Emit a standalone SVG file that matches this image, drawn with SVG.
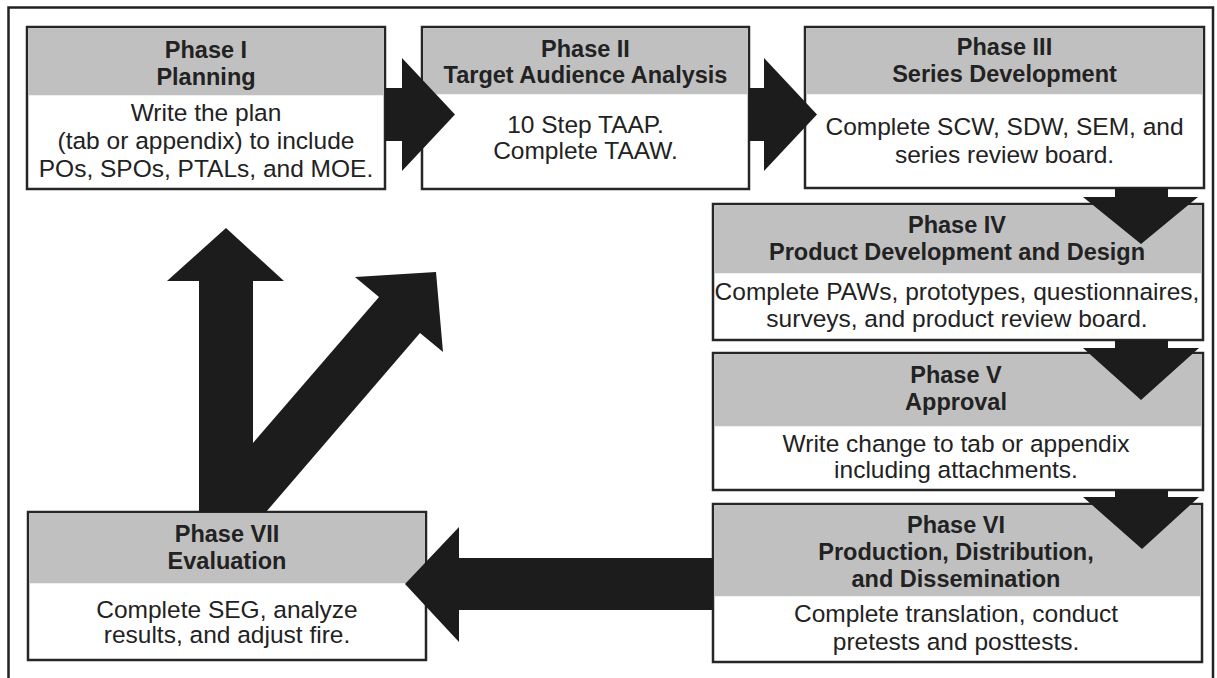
<svg xmlns="http://www.w3.org/2000/svg" width="1217" height="678" viewBox="0 0 1217 678">
<style>
.box{fill:#fff;stroke:#262626;stroke-width:2.5}
.hd{fill:#c0c0c0}
.ht{font-family:"Liberation Sans",Arial,sans-serif;font-weight:bold;font-size:23.5px;fill:#222;text-anchor:middle}
.bt{font-family:"Liberation Sans",Arial,sans-serif;font-size:24.5px;fill:#222;text-anchor:middle}
.arr{fill:#1c1c1c}
</style>
<rect width="1217" height="678" fill="#fff"/>
<path d="M8.5,678 V7.5 H1213 V678" fill="none" stroke="#222" stroke-width="2.5"/>

<g id="phase1">
<rect class="box" x="27" y="27" width="358" height="162"/>
<rect class="hd" x="28.25" y="28.25" width="355.5" height="67"/>
<text class="ht" x="206" y="58">Phase I</text>
<text class="ht" x="206" y="85">Planning</text>
<text class="bt" x="206" y="120.5">Write the plan</text>
<text class="bt" x="206" y="148.5">(tab or appendix) to include</text>
<text class="bt" x="206" y="177">POs, SPOs, PTALs, and MOE.</text>
</g>

<g id="phase2">
<rect class="box" x="422" y="27" width="327" height="162"/>
<rect class="hd" x="423.25" y="28.25" width="324.5" height="66"/>
<text class="ht" x="585.5" y="57">Phase II</text>
<text class="ht" x="585.5" y="83">Target Audience Analysis</text>
<text class="bt" x="585.5" y="133">10 Step TAAP.</text>
<text class="bt" x="585.5" y="159">Complete TAAW.</text>
</g>

<g id="phase3">
<rect class="box" x="805" y="27" width="399" height="161"/>
<rect class="hd" x="806.25" y="28.25" width="396.5" height="66"/>
<text class="ht" x="1004.5" y="55">Phase III</text>
<text class="ht" x="1004.5" y="82">Series Development</text>
<text class="bt" x="1004.5" y="135">Complete SCW, SDW, SEM, and</text>
<text class="bt" x="1004.5" y="163">series review board.</text>
</g>

<g id="phase4">
<rect class="box" x="713" y="204" width="490" height="136"/>
<rect class="hd" x="714.25" y="205.25" width="487.5" height="68"/>
<text class="ht" x="957" y="233">Phase IV</text>
<text class="ht" x="957" y="260">Product Development and Design</text>
<text class="bt" x="957" y="300">Complete PAWs, prototypes, questionnaires,</text>
<text class="bt" x="957" y="327">surveys, and product review board.</text>
</g>

<g id="phase5">
<rect class="box" x="713" y="353" width="490" height="137"/>
<rect class="hd" x="714.25" y="354.25" width="487.5" height="72"/>
<text class="ht" x="956" y="383">Phase V</text>
<text class="ht" x="956" y="410">Approval</text>
<text class="bt" x="956" y="452">Write change to tab or appendix</text>
<text class="bt" x="956" y="478">including attachments.</text>
</g>

<g id="phase6">
<rect class="box" x="713" y="504" width="489" height="158"/>
<rect class="hd" x="714.25" y="505.25" width="486.5" height="91"/>
<text class="ht" x="956" y="533">Phase VI</text>
<text class="ht" x="956" y="560">Production, Distribution,</text>
<text class="ht" x="956" y="587">and Dissemination</text>
<text class="bt" x="956" y="622">Complete translation, conduct</text>
<text class="bt" x="956" y="650">pretests and posttests.</text>
</g>

<g id="phase7">
<rect class="box" x="28" y="512" width="398" height="148"/>
<rect class="hd" x="29.25" y="513.25" width="395.5" height="70"/>
<text class="ht" x="227" y="542">Phase VII</text>
<text class="ht" x="227" y="569">Evaluation</text>
<text class="bt" x="227" y="618">Complete SEG, analyze</text>
<text class="bt" x="227" y="643">results, and adjust fire.</text>
</g>

<g id="connectors">
<polygon class="arr" points="385,88 402,88 402,58 455,114.5 402,171 402,141 385,141"/>
<polygon class="arr" points="749,88 764,88 764,58 817,114.5 764,171 764,141 749,141"/>
<polygon class="arr" points="1115,188 1168,188 1168,197 1198,197 1141,244 1083,197 1115,197"/>
<polygon class="arr" points="1115,340 1168,340 1168,348 1199,348 1141,400 1083,348 1115,348"/>
<polygon class="arr" points="1115,490 1168,490 1168,497 1199,497 1142,549 1083,497 1115,497"/>
<polygon class="arr" points="713,558 459,558 459,527 405,584 459,642 459,610 713,610"/>
<polygon class="arr" points="199,512 199,281 167,281 226,228 284,281 253,281 253,443 379,297 355,277 436,272 443,352 420,333 266,512"/>
</g>
</svg>
